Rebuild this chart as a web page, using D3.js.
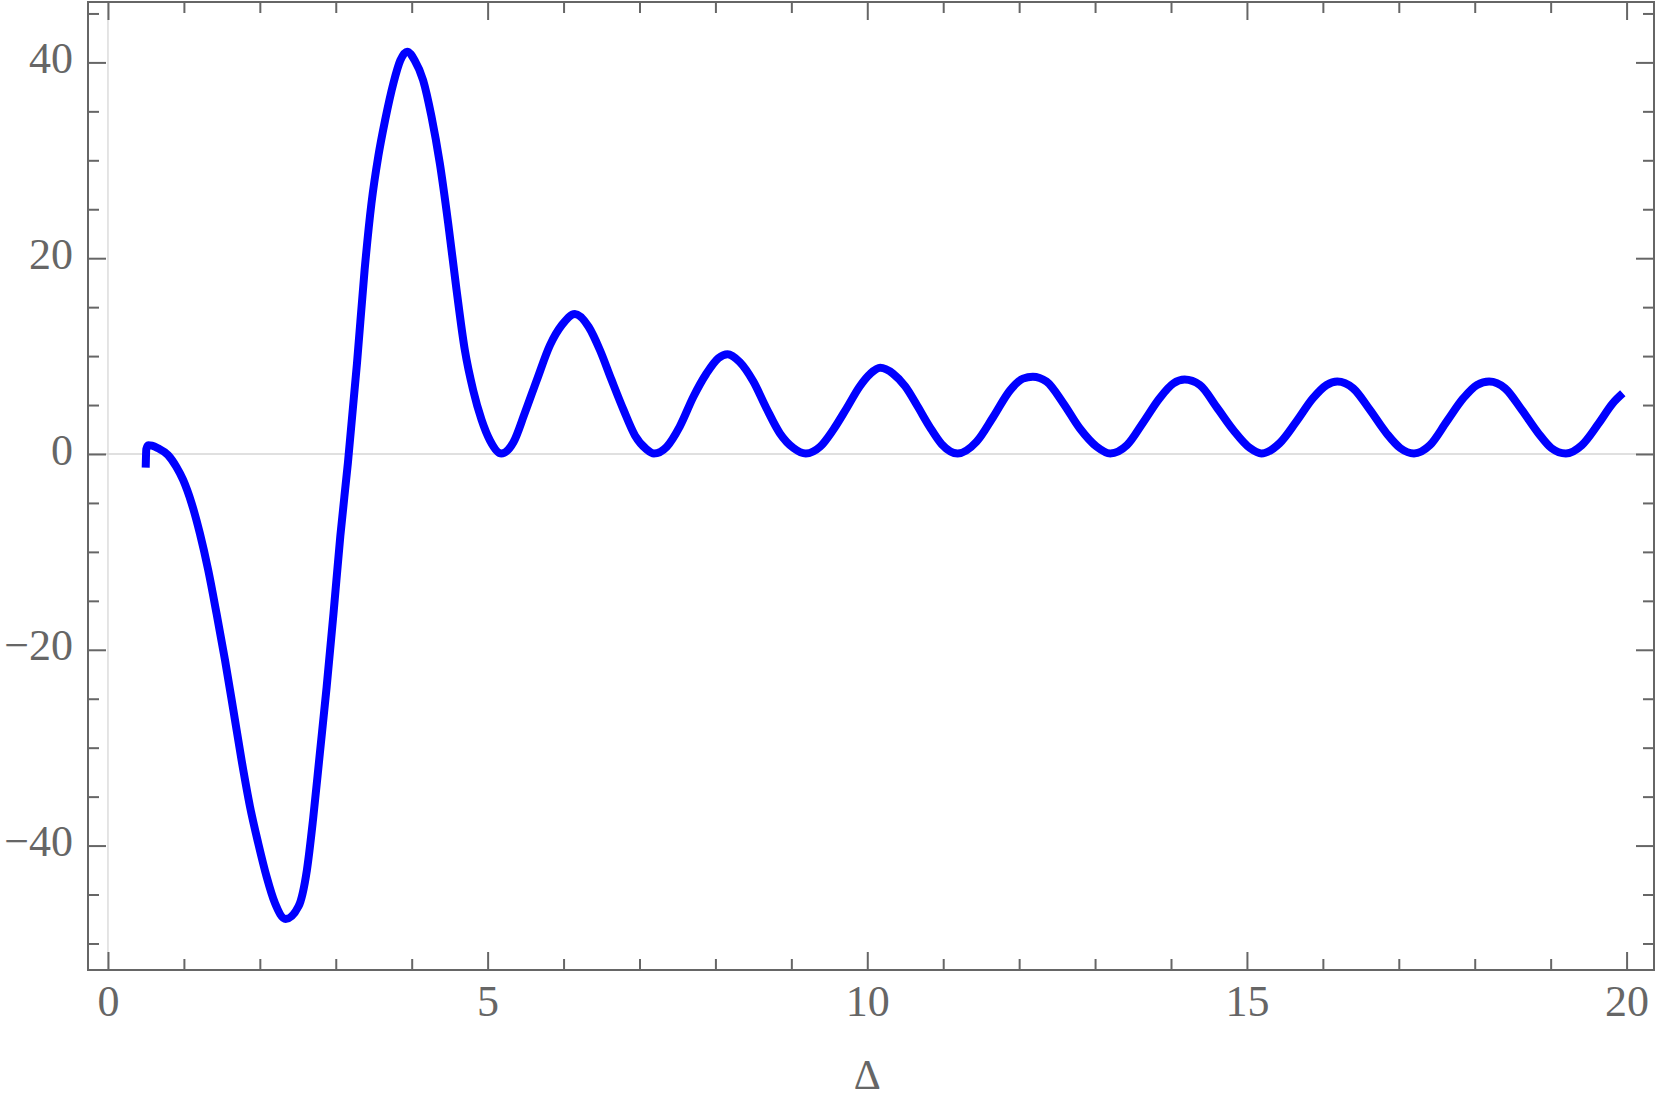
<!DOCTYPE html>
<html>
<head>
<meta charset="utf-8">
<script src="https://cdn.jsdelivr.net/npm/d3@7"></script>
<style>
  html, body { margin: 0; padding: 0; background: #fff; }
  svg text { font-family: "Liberation Serif", "DejaVu Serif", serif; fill: #666; }
</style>
</head>
<body>
<div id="chart"></div>
<script>
// values
const deltaX = [0.497, 0.505, 0.53, 0.58, 0.66, 0.79, 0.90, 0.99, 1.10, 1.21, 1.32, 1.43, 1.54, 1.65, 1.76, 1.87, 1.98, 2.09, 2.20, 2.34,
  2.51, 2.62, 2.70, 2.79, 2.88, 2.97, 3.06, 3.16, 3.28, 3.38, 3.47, 3.56, 3.65, 3.76, 3.85, 3.94, 4.04, 4.15, 4.26, 4.37,
  4.48, 4.59, 4.70, 4.81, 4.92, 5.03, 5.18, 5.34, 5.49, 5.65, 5.82, 5.98, 6.15, 6.33, 6.48, 6.63, 6.79, 6.94, 7.09, 7.19,
  7.36, 7.53, 7.71, 7.88, 8.04, 8.16, 8.32, 8.50, 8.67, 8.85, 9.03, 9.19, 9.38, 9.55, 9.73, 9.90, 10.04, 10.17, 10.34, 10.50,
  10.66, 10.82, 10.98, 11.19, 11.44, 11.66, 11.88, 12.05, 12.18, 12.36, 12.58, 12.80, 13.02, 13.20, 13.42, 13.64, 13.85, 14.03, 14.18, 14.38,
  14.60, 14.82, 15.04, 15.19, 15.43, 15.65, 15.87, 16.05, 16.19, 16.40, 16.62, 16.84, 17.02, 17.20, 17.41, 17.63, 17.85, 18.03, 18.19, 18.40,
  18.62, 18.84, 19.01, 19.20, 19.41, 19.63, 19.82, 19.95];
const valueY = [-1.4, 0.5, 0.9, 0.85, 0.58, -0.1, -1.3, -2.65, -5.0, -8.1, -11.85, -16.3, -21.0, -26.1, -31.3, -36.0, -39.8, -43.2, -45.9, -47.5,
  -46.2, -42.5, -37.4, -30.6, -23.8, -16.3, -8.4, -0.9, 9.3, 18.8, 25.6, 30.4, 34.1, 37.9, 40.2, 41.1, 40.2, 38.2, 34.5, 29.7,
  23.6, 16.8, 10.6, 6.5, 3.5, 1.4, 0.05, 1.2, 4.2, 7.6, 11.1, 13.2, 14.3, 13.0, 10.6, 7.6, 4.5, 1.9, 0.5, 0.05,
  0.75, 2.8, 5.85, 8.2, 9.8, 10.2, 9.4, 7.4, 4.7, 2.1, 0.6, 0.05, 0.75, 2.45, 4.7, 6.9, 8.2, 8.8, 8.2, 6.9,
  4.9, 2.8, 1.0, 0.05, 1.26, 3.8, 6.5, 7.7, 7.9, 7.4, 5.2, 2.6, 0.75, 0.05, 0.9, 3.3, 5.7, 7.2, 7.6, 7.05,
  4.8, 2.45, 0.6, 0.05, 1.1, 3.3, 5.7, 7.05, 7.4, 6.7, 4.5, 2.1, 0.6, 0.05, 0.9, 3.3, 5.7, 7.05, 7.4, 6.7,
  4.5, 2.1, 0.6, 0.05, 0.9, 3.1, 5.2, 6.2];

const xMajor = [0, 5, 10, 15, 20];
const xMinor = [1, 2, 3, 4, 6, 7, 8, 9, 11, 12, 13, 14, 16, 17, 18, 19];
const yMajor = [-40, -20, 0, 20, 40];
const yMinor = [-50, -45, -35, -30, -25, -15, -10, -5, 5, 10, 15, 25, 30, 35, 45];
const xLabel = "Δ";

const W = 1661, H = 1107;
const plot = {left: 88, right: 1654, top: 2, bottom: 970};

const x = d3.scaleLinear().domain([-0.263, 20.361]).range([plot.left, plot.right]);
const y = d3.scaleLinear().domain([-52.71, 46.17]).range([plot.bottom, plot.top]);

const svg = d3.select("#chart").append("svg")
  .attr("width", W)
  .attr("height", H);

// light zero lines
svg.append("line")
  .attr("x1", x(0)).attr("x2", x(0))
  .attr("y1", plot.top).attr("y2", plot.bottom)
  .attr("stroke", "#d6d6d6").attr("stroke-width", 1.3);
svg.append("line")
  .attr("x1", plot.left).attr("x2", plot.right)
  .attr("y1", y(0)).attr("y2", y(0))
  .attr("stroke", "#d6d6d6").attr("stroke-width", 1.3);

// curve
const line = d3.line()
  .x((d, i) => x(deltaX[i]))
  .y(d => y(d))
  .curve(d3.curveMonotoneX);

svg.append("path")
  .datum(valueY)
  .attr("d", line)
  .attr("fill", "none")
  .attr("stroke", "#0000ff")
  .attr("stroke-width", 8);

// axes, ticks pointing inside on all four sides
function styleAxis(g) {
  g.select(".domain").remove();
  g.selectAll(".tick line").attr("stroke", "#666").attr("stroke-width", 2);
  g.selectAll("text").style("font-size", "44px").attr("fill", "#666");
}

const majLen = 18, minLen = 11;

svg.append("g")
  .attr("transform", `translate(0,${plot.bottom})`)
  .call(d3.axisBottom(x).tickValues(xMajor).tickSize(-majLen).tickPadding(15).tickFormat(d3.format("d")))
  .call(styleAxis);
svg.append("g")
  .attr("transform", `translate(0,${plot.bottom})`)
  .call(d3.axisBottom(x).tickValues(xMinor).tickSize(-minLen).tickFormat(""))
  .call(styleAxis);
svg.append("g")
  .attr("transform", `translate(0,${plot.top})`)
  .call(d3.axisTop(x).tickValues(xMajor).tickSize(-majLen).tickFormat(""))
  .call(styleAxis);
svg.append("g")
  .attr("transform", `translate(0,${plot.top})`)
  .call(d3.axisTop(x).tickValues(xMinor).tickSize(-minLen).tickFormat(""))
  .call(styleAxis);

svg.append("g")
  .attr("transform", `translate(${plot.left},0)`)
  .call(d3.axisLeft(y).tickValues(yMajor).tickSize(-majLen).tickPadding(15).tickFormat(d3.format("d")))
  .call(styleAxis)
  .selectAll("text").attr("dy", "0.23em");
svg.append("g")
  .attr("transform", `translate(${plot.left},0)`)
  .call(d3.axisLeft(y).tickValues(yMinor).tickSize(-minLen).tickFormat(""))
  .call(styleAxis);
svg.append("g")
  .attr("transform", `translate(${plot.right},0)`)
  .call(d3.axisRight(y).tickValues(yMajor).tickSize(-majLen).tickFormat(""))
  .call(styleAxis);
svg.append("g")
  .attr("transform", `translate(${plot.right},0)`)
  .call(d3.axisRight(y).tickValues(yMinor).tickSize(-minLen).tickFormat(""))
  .call(styleAxis);

// frame
svg.append("rect")
  .attr("x", plot.left).attr("y", plot.top)
  .attr("width", plot.right - plot.left)
  .attr("height", plot.bottom - plot.top)
  .attr("fill", "none")
  .attr("stroke", "#666")
  .attr("stroke-width", 2);

// axis title
svg.append("text")
  .attr("x", x(10))
  .attr("y", 1089)
  .attr("text-anchor", "middle")
  .style("font-size", "42px")
  .text(xLabel);
</script>
</body>
</html>
